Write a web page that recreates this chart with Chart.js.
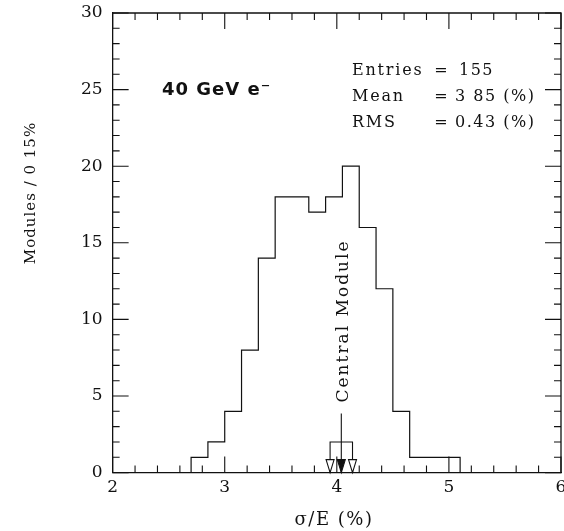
<!DOCTYPE html>
<html>
<head>
<meta charset="utf-8">
<script src="https://cdn.jsdelivr.net/npm/chart.js"></script>
<style>
  body { margin: 0; background: #fff; }
  #wrap { width: 564px; height: 531px; }
</style>
</head>
<body>
<div id="wrap"><canvas id="mycanvas" width="564" height="531"></canvas></div>
<script>
// histogram: left bin edges (width 0.15 %) and module counts
var binLeft = [2.70, 2.85, 3.00, 3.15, 3.30, 3.45, 3.60, 3.75, 3.90, 4.05, 4.20, 4.35, 4.50, 4.65, 4.80, 4.95];
var binWidth = 0.15;
var counts = [1, 2, 4, 8, 14, 18, 18, 17, 18, 20, 16, 12, 4, 1, 1, 1];

// axis ticks
var xTicks = [2, 3, 4, 5, 6];
var yTicks = [0, 5, 10, 15, 20, 25, 30];

// central module marker
var cmX = 4.04;
var cmTop = 3.85;
var cmBracket = [3.94, 4.14];
var cmBracketY = 2;

var ink = "#111";

// build step points
var histPts = [{x: binLeft[0], y: 0}];
for (var i in binLeft) {
  histPts.push({x: binLeft[i], y: counts[i]});
}
histPts.push({x: binLeft[binLeft.length - 1] + binWidth, y: 0});

var bracketPts = [
  {x: cmBracket[0], y: 0}, {x: cmBracket[0], y: cmBracketY},
  {x: cmBracket[1], y: cmBracketY}, {x: cmBracket[1], y: 0}
];
var shaftPts = [{x: cmX, y: cmTop}, {x: cmX, y: 0}];

// inward ticks on all four sides + top/right frame
var frameTicks = {
  id: "frameTicks",
  afterDatasetsDraw: function(chart) {
    var ctx = chart.ctx, a = chart.chartArea;
    var xs = chart.scales.x, ys = chart.scales.y;
    ctx.save();
    ctx.strokeStyle = ink;
    ctx.lineWidth = 1.3;
    ctx.beginPath();
    ctx.moveTo(a.left, a.top); ctx.lineTo(a.right, a.top); ctx.lineTo(a.right, a.bottom);
    ctx.stroke();
    ctx.lineWidth = 1.1;
    ctx.beginPath();
    for (var k = 0; k <= 20; k++) {
      var v = xTicks[0] + k * 0.2;
      var px = xs.getPixelForValue(v);
      var len = (k % 5 === 0) ? 16 : 7;
      ctx.moveTo(px, a.bottom); ctx.lineTo(px, a.bottom - len);
      ctx.moveTo(px, a.top); ctx.lineTo(px, a.top + len);
    }
    for (var j = 0; j <= 30; j++) {
      var py = ys.getPixelForValue(j);
      var l2 = (j % 5 === 0) ? 16 : 7;
      ctx.moveTo(a.left, py); ctx.lineTo(a.left + l2, py);
      ctx.moveTo(a.right, py); ctx.lineTo(a.right - l2, py);
    }
    ctx.stroke();

    // arrow heads of the central module marker
    var yb = ys.getPixelForValue(0);
    var heads = [[cmBracket[0], false], [cmX, true], [cmBracket[1], false]];
    heads.forEach(function(h) {
      var hx = xs.getPixelForValue(h[0]);
      ctx.beginPath();
      ctx.moveTo(hx, yb);
      ctx.lineTo(hx - 4, yb - 13);
      ctx.lineTo(hx + 4, yb - 13);
      ctx.closePath();
      ctx.fillStyle = h[1] ? ink : "#fff";
      ctx.fill();
      ctx.lineWidth = 1.1;
      ctx.stroke();
    });
    ctx.restore();
  }
};

var labels = {
  id: "labels",
  afterDraw: function(chart) {
    var ctx = chart.ctx;
    ctx.save();
    ctx.fillStyle = ink;
    ctx.textBaseline = "alphabetic";

    ctx.font = "bold 18px 'DejaVu Sans'";
    ctx.letterSpacing = "1px";
    ctx.fillText("40 GeV e\u207B", 162, 95);

    ctx.font = "16px 'DejaVu Serif'";
    ctx.letterSpacing = "1.8px";
    ctx.fillText("Entries", 352, 75);
    ctx.fillText("Mean", 352, 101);
    ctx.fillText("RMS", 352, 127);
    ctx.textAlign = "center";
    ctx.letterSpacing = "0px";
    ctx.fillText("=", 441, 75);
    ctx.fillText("=", 441, 101);
    ctx.fillText("=", 441, 127);
    ctx.textAlign = "left";
    ctx.letterSpacing = "1.5px";
    ctx.fillText("155", 459, 75);
    ctx.fillText("3 85 (%)", 455, 101);
    ctx.fillText("0.43 (%)", 455, 127);

    ctx.textAlign = "center";
    ctx.textBaseline = "middle";
    ctx.font = "18px 'DejaVu Serif'";
    ctx.letterSpacing = "1.5px";
    ctx.fillText("\u03C3/E (%)", 334, 520);

    ctx.save();
    ctx.translate(31, 193);
    ctx.rotate(-Math.PI / 2);
    ctx.font = "15px 'DejaVu Serif'";
    ctx.letterSpacing = "1px";
    ctx.fillText("Modules / 0 15%", 0, 0);
    ctx.restore();

    ctx.save();
    ctx.translate(344, 321);
    ctx.rotate(-Math.PI / 2);
    ctx.font = "17px 'DejaVu Serif'";
    ctx.letterSpacing = "2px";
    ctx.fillText("Central Module", 0, 0);
    ctx.restore();

    ctx.restore();
  }
};

var chartdata = {
  datasets: [
    {
      label: "Modules",
      data: histPts,
      stepped: "before",
      fill: false,
      borderColor: ink,
      borderWidth: 1.2,
      pointRadius: 0
    },
    {
      label: "bracket",
      data: bracketPts,
      fill: false,
      borderColor: ink,
      borderWidth: 1.1,
      pointRadius: 0
    },
    {
      label: "shaft",
      data: shaftPts,
      fill: false,
      borderColor: ink,
      borderWidth: 1.1,
      pointRadius: 0
    }
  ]
};

function noEdgePad(s) {
  s.paddingLeft = 0; s.paddingRight = 0; s.paddingTop = 0; s.paddingBottom = 0;
}

var ctx = document.getElementById("mycanvas");
var HistChart = new Chart(ctx, {
  type: "line",
  data: chartdata,
  options: {
    responsive: false,
    animation: false,
    layout: { padding: { left: 71, right: 3, top: 13, bottom: 28 } },
    plugins: { legend: { display: false }, tooltip: { enabled: false } },
    scales: {
      x: {
        type: "linear", min: 2, max: 6,
        afterBuildTicks: function(s) { s.ticks = xTicks.map(function(v) { return {value: v}; }); },
        afterFit: noEdgePad,
        ticks: { color: ink, padding: 5, maxRotation: 0, font: { family: "DejaVu Serif", size: 17 } },
        grid: { drawOnChartArea: false, drawTicks: false },
        border: { display: true, color: ink, width: 1.3 }
      },
      y: {
        type: "linear", min: 0, max: 30,
        afterBuildTicks: function(s) { s.ticks = yTicks.map(function(v) { return {value: v}; }); },
        afterFit: noEdgePad,
        ticks: { color: ink, padding: 10, font: { family: "DejaVu Serif", size: 17 } },
        grid: { drawOnChartArea: false, drawTicks: false },
        border: { display: true, color: ink, width: 1.3 }
      }
    }
  },
  plugins: [frameTicks, labels]
});
</script>
</body>
</html>
